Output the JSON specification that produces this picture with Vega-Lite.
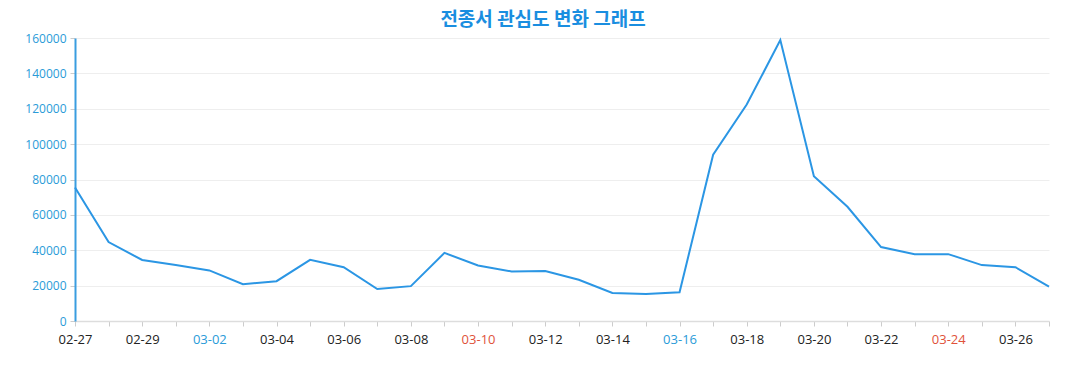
{
  "$schema": "https://vega.github.io/schema/vega-lite/v6.json",
  "autosize": "none",
  "width": 974,
  "height": 283,
  "padding": {"left": 75, "top": 38, "right": 28, "bottom": 69},
  "background": "white",
  "title": {
    "text": "전종서 관심도 변화 그래프",
    "font": "Noto Sans CJK KR",
    "fontSize": 19,
    "fontWeight": "bold",
    "color": "#1a8ee0",
    "anchor": "middle",
    "dx": -19,
    "offset": 2
  },
  "data": {
    "values": [
      {"date": "02-27", "value": 75500},
      {"date": "02-28", "value": 44600},
      {"date": "02-29", "value": 34500},
      {"date": "03-01", "value": 31600},
      {"date": "03-02", "value": 28600},
      {"date": "03-03", "value": 20800},
      {"date": "03-04", "value": 22500},
      {"date": "03-05", "value": 34600},
      {"date": "03-06", "value": 30400},
      {"date": "03-07", "value": 18100},
      {"date": "03-08", "value": 19700},
      {"date": "03-09", "value": 38500},
      {"date": "03-10", "value": 31400},
      {"date": "03-11", "value": 28000},
      {"date": "03-12", "value": 28200},
      {"date": "03-13", "value": 23300},
      {"date": "03-14", "value": 15800},
      {"date": "03-15", "value": 15300},
      {"date": "03-16", "value": 16200},
      {"date": "03-17", "value": 94000},
      {"date": "03-18", "value": 122400},
      {"date": "03-19", "value": 158800},
      {"date": "03-20", "value": 81800},
      {"date": "03-21", "value": 64600},
      {"date": "03-22", "value": 41800},
      {"date": "03-23", "value": 37800},
      {"date": "03-24", "value": 37800},
      {"date": "03-25", "value": 31600},
      {"date": "03-26", "value": 30400},
      {"date": "03-27", "value": 19500}
    ]
  },
  "mark": {"type": "line", "color": "#2b96e4", "strokeWidth": 2},
  "encoding": {
    "x": {
      "field": "date",
      "type": "ordinal",
      "sort": null,
      "scale": {"type": "point", "padding": 0},
      "axis": {
        "title": null,
        "labelAngle": 0,
        "labelFont": "Open Sans",
        "labelFontSize": 13,
        "labelPadding": 7,
        "labelExpr": "indexof(['02-27','02-29','03-02','03-04','03-06','03-08','03-10','03-12','03-14','03-16','03-18','03-20','03-22','03-24','03-26'], datum.value) >= 0 ? datum.value : ''",
        "labelColor": {
          "condition": [
            {"test": "datum.value == '03-02' || datum.value == '03-16'", "value": "#2a9bd8"},
            {"test": "datum.value == '03-10' || datum.value == '03-24'", "value": "#e0523a"}
          ],
          "value": "#222222"
        },
        "labelOverlap": false,
        "domainColor": "#dddddd",
        "domainWidth": 1.5,
        "tickColor": "#cccccc",
        "tickSize": 5,
        "grid": false
      }
    },
    "y": {
      "field": "value",
      "type": "quantitative",
      "scale": {"domain": [0, 160000], "nice": false},
      "axis": {
        "title": null,
        "values": [0, 20000, 40000, 60000, 80000, 100000, 120000, 140000, 160000],
        "labelFont": "Open Sans",
        "labelFontSize": 12,
        "labelColor": "#2a9bd8",
        "labelPadding": 4,
        "format": "d",
        "domainColor": "#3a9de0",
        "domainWidth": 2,
        "tickColor": "#cccccc",
        "tickSize": 5,
        "grid": true,
        "gridColor": "#eeeeee"
      }
    }
  },
  "config": {"view": {"stroke": null}}
}
